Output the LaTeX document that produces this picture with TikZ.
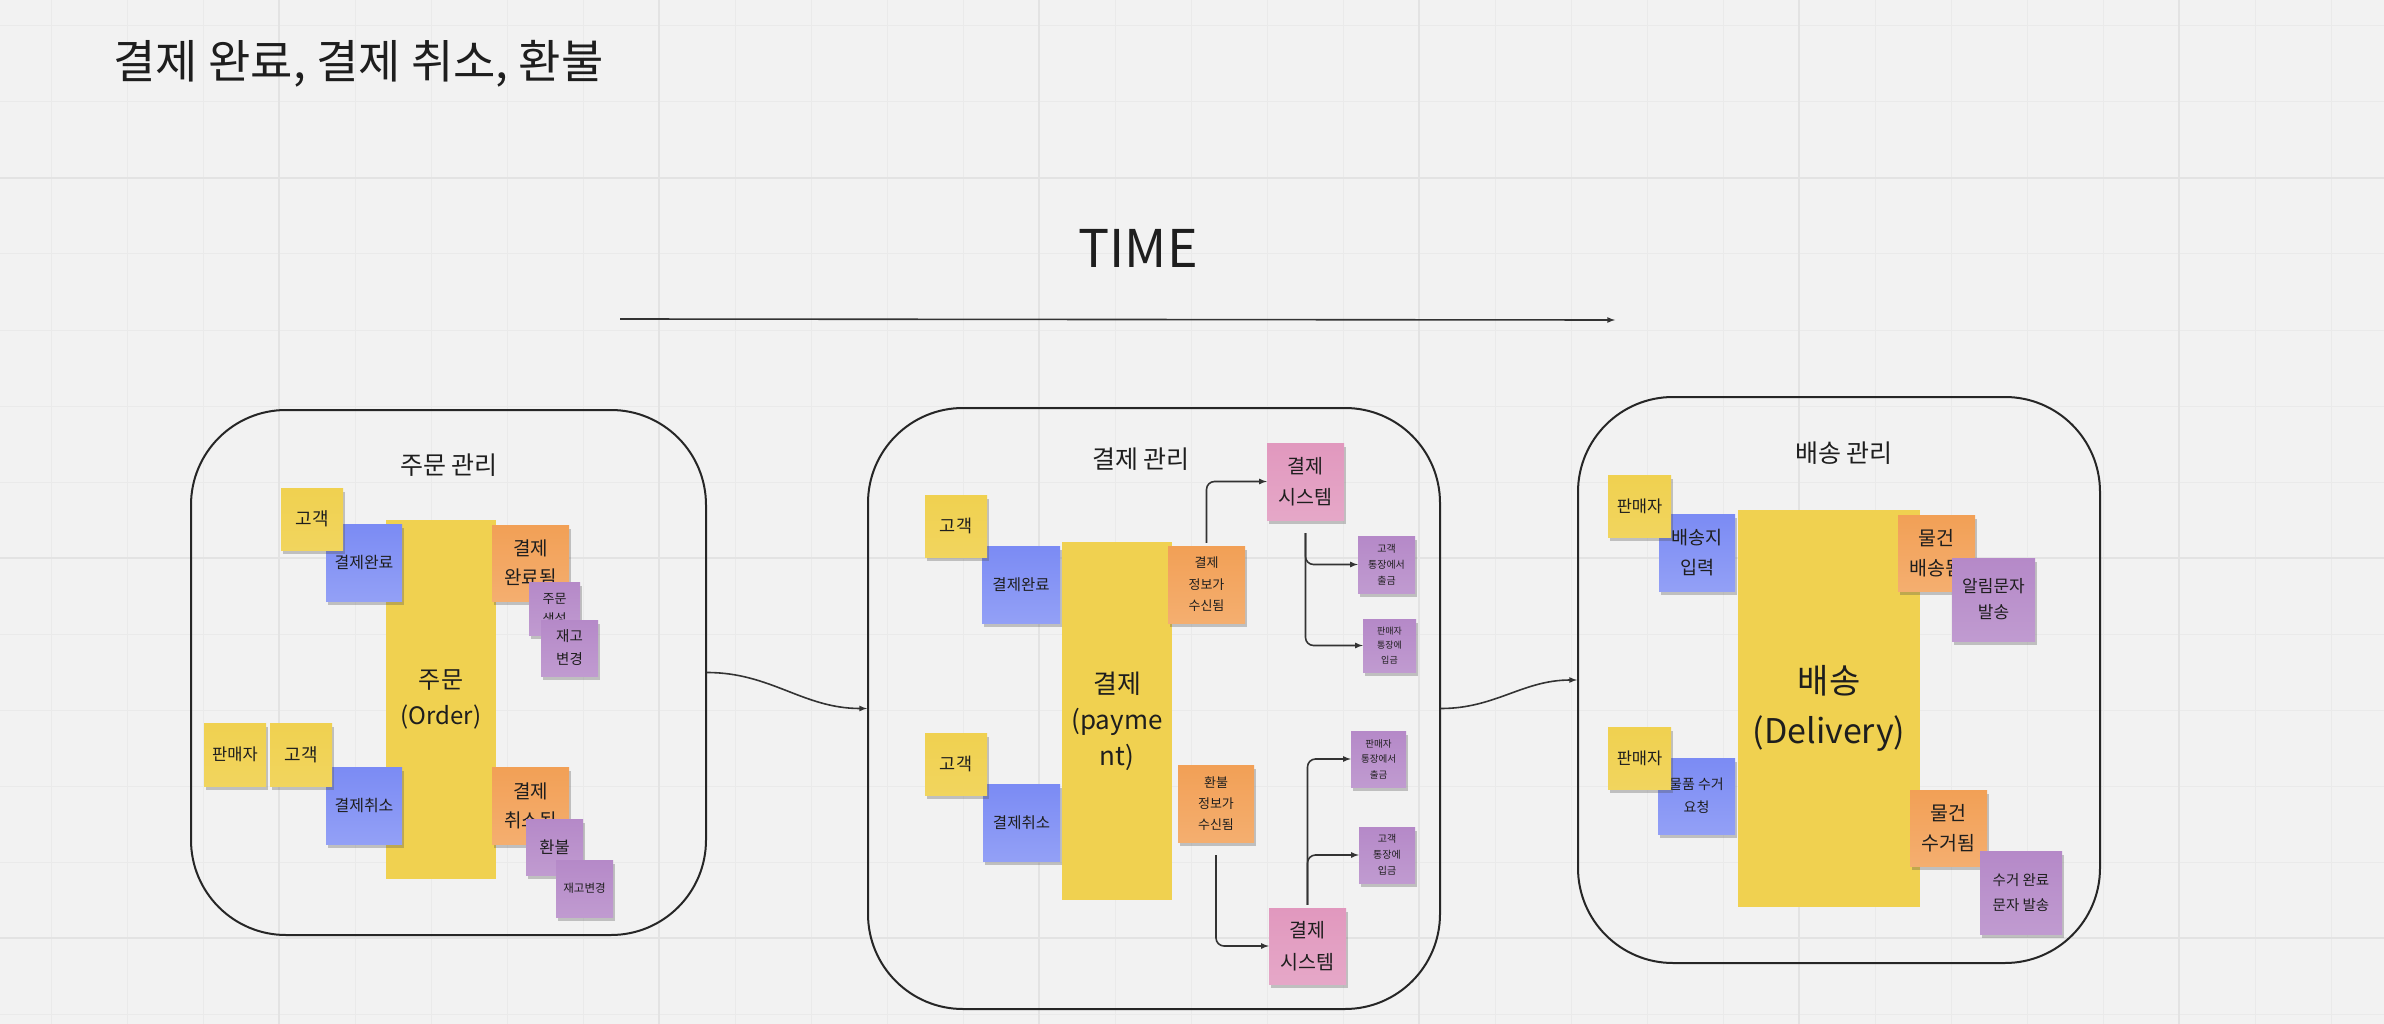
\documentclass[tikz,border=0pt]{standalone}
\usepackage{fontspec}
\setmainfont{Noto Sans CJK KR}
\usetikzlibrary{calc,positioning,shapes,shadows,arrows}
\definecolor{board}{HTML}{F2F2F2}
\definecolor{gridminor}{HTML}{EAEAEA}
\definecolor{gridmajor}{HTML}{E3E3E3}
\definecolor{ink}{HTML}{1E1E1E}
\definecolor{wire}{HTML}{333333}
\definecolor{stickyyellow}{HTML}{F0D150}
\definecolor{stickyblue}{HTML}{7B8BF4}
\definecolor{stickyorange}{HTML}{F2A056}
\definecolor{stickypurple}{HTML}{B589C8}
\definecolor{stickypink}{HTML}{E198BE}
\newcommand{\stickyfont}[2]{\fontsize{#1}{#2}\selectfont}
\tikzstyle{sticky}=[rectangle, inner sep=0pt, align=center, text=ink,
        drop shadow={shadow xshift=2pt, shadow yshift=-4pt, opacity=0.3, fill=black!70}]
\tikzstyle{actor}=[sticky, top color=stickyyellow, bottom color=stickyyellow!92!white,
        minimum width=62pt, minimum height=62pt]
\tikzstyle{command}=[sticky, top color=stickyblue, bottom color=stickyblue!82!white,
        minimum width=77pt, minimum height=77pt]
\tikzstyle{event}=[sticky, top color=stickyorange, bottom color=stickyorange!85!white,
        minimum width=77pt, minimum height=77pt]
\tikzstyle{policy}=[sticky, top color=stickypurple, bottom color=stickypurple!85!white,
        minimum width=57pt, minimum height=57pt]
\tikzstyle{external}=[sticky, top color=stickypink, bottom color=stickypink!85!white,
        minimum width=77pt, minimum height=77pt]
\tikzstyle{aggregate}=[rectangle, inner sep=0pt, align=center, text=ink, fill=stickyyellow]
\tikzstyle{context}=[rectangle, draw=black!85, line width=2pt, rounded corners=95pt]
\tikzstyle{flow}=[draw=wire, line width=1.6pt, -latex]
\pgfdeclarelayer{background}
\pgfsetlayers{background,main}

\begin{document}
\begin{tikzpicture}[x=1pt, y=-1pt, node distance=20pt]
    \useasboundingbox (0,0) rectangle (2384,1024);
    \begin{pgfonlayer}{background}
        \fill[board] (0,0) rectangle (2384,1024);
        \foreach \x in {51,127,...,2384} \draw[gridminor, line width=1pt] (\x,0) -- (\x,1024);
        \foreach \y in {26,102,...,1024} \draw[gridminor, line width=1pt] (0,\y) -- (2384,\y);
        \foreach \x in {279,659,...,2384} \draw[gridmajor, line width=2pt] (\x,0) -- (\x,1024);
        \foreach \y in {178,558,938} \draw[gridmajor, line width=2pt] (0,\y) -- (2384,\y);
    \end{pgfonlayer}

    \node (PageTitle) [anchor=west, text=ink, font=\stickyfont{46}{50}] at (110,64) {결제 완료, 결제 취소, 환불};

    \node (TimeLabel) [text=ink, font=\stickyfont{52}{56}] at (1138,248) {TIME};
    \coordinate (TimeStart) at (620,319);
    \coordinate (TimeEnd) at (1615,320);
    \draw[flow] (TimeStart) -- (TimeEnd);

    \node (OrderBox) [context, minimum width=515pt, minimum height=525pt] at (448.5,672.5) {};
    \node (PaymentBox) [context, minimum width=572pt, minimum height=601pt] at (1154,708.5) {};
    \node (DeliveryBox) [context, minimum width=522pt, minimum height=566pt] at (1839,680) {};

    \node (OrderTitle) [text=ink, font=\stickyfont{25}{30}] at (449,465) {주문 관리};
    \node (PaymentTitle) [text=ink, font=\stickyfont{25}{30}] at (1141,459) {결제 관리};
    \node (DeliveryTitle) [text=ink, font=\stickyfont{25}{30}] at (1844,453) {배송 관리};

    \node (Order) [aggregate, minimum width=110pt, minimum height=359pt, font=\stickyfont{24}{36}] at (441,699.5)
        {
            주문\\(Order)
        };

    \node (PayDone1) [command, minimum width=76pt, font=\stickyfont{16}{20}] at (364,562.5) {결제완료};
    \node (Customer1a) [actor, font=\stickyfont{18}{22}] at (312,519) {고객};

    \node (Cancel1) [command, minimum width=76pt, font=\stickyfont{16}{20}] at (364,805.5) {결제취소};
    \node (Seller1) [actor, minimum height=63pt, font=\stickyfont{16.5}{20}] at (235,754.5) {판매자};
    \node (Customer1b) [actor, minimum height=63pt, font=\stickyfont{18}{22}] at (301,754.5) {고객};

    \node (PaidEvent) [event, minimum height=76pt, font=\stickyfont{19}{29}] at (530.5,563)
        {
            결제\\완료됨
        };
    \node (OrderCreated) [policy, minimum width=51pt, minimum height=53pt, font=\stickyfont{13}{20}] at (554.5,608.5)
        {
            주문\\생성
        };
    \node (StockChange1) [policy, minimum height=56pt, font=\stickyfont{14.5}{23}] at (569.5,648)
        {
            재고\\변경
        };

    \node (CancelEvent) [event, font=\stickyfont{19}{29}] at (530.5,805.5)
        {
            결제\\취소됨
        };
    \node (Refund1) [policy, minimum height=56pt, font=\stickyfont{16.5}{20}] at (554.5,847) {환불};
    \node (StockChange2) [policy, font=\stickyfont{11.5}{14}] at (584.5,888.5) {재고변경};

    \node (Payment) [aggregate, minimum width=110pt, minimum height=358pt, font=\stickyfont{26}{36}] at (1117,721)
        {
            결제\\(payme\\nt)
        };

    \node (PayDone2) [command, minimum width=78pt, font=\stickyfont{15.5}{20}] at (1021,584.5) {결제완료};
    \node (Customer2a) [actor, font=\stickyfont{17.5}{22}] at (956,526) {고객};

    \node (Cancel2) [command, font=\stickyfont{15.5}{20}] at (1021.5,822.5) {결제취소};
    \node (Customer2b) [actor, font=\stickyfont{17.5}{22}] at (956,764) {고객};

    \node (PayInfo) [event, font=\stickyfont{13}{21.5}] at (1206.5,584.5)
        {
            결제\\정보가\\수신됨
        };
    \node (RefundInfo) [event, minimum width=76pt, font=\stickyfont{13}{21}] at (1216,803.5)
        {
            환불\\정보가\\수신됨
        };

    \node (PaySystem1) [external, font=\stickyfont{19.5}{31.5}] at (1305.5,481.5)
        {
            결제\\시스템
        };
    \node (PaySystem2) [external, minimum height=76pt, font=\stickyfont{19.5}{31.5}] at (1307.5,946)
        {
            결제\\시스템
        };

    \node (Withdraw1) [policy, font=\stickyfont{10}{16}] at (1386.5,564.5)
        {
            고객\\통장에서\\출금
        };
    \node (Deposit1) [policy, minimum width=53pt, minimum height=53pt, font=\stickyfont{9}{14.5}] at (1389.5,645.5)
        {
            판매자\\통장에\\입금
        };
    \node (Withdraw2) [policy, minimum width=55pt, minimum height=56pt, font=\stickyfont{9.5}{15.5}] at (1378.5,759)
        {
            판매자\\통장에서\\출금
        };
    \node (Deposit2) [policy, minimum width=56pt, minimum height=56pt, font=\stickyfont{10}{16}] at (1387,855)
        {
            고객\\통장에\\입금
        };

    \node (Delivery) [aggregate, minimum width=182pt, minimum height=397pt, font=\stickyfont{34}{50}] at (1829,708.5)
        {
            배송\\(Delivery)
        };

    \node (Address) [command, minimum width=76pt, font=\stickyfont{18.5}{30}] at (1697,552.5)
        {
            배송지\\입력
        };
    \node (Seller3a) [actor, minimum width=63pt, font=\stickyfont{16.5}{20}] at (1639.5,506) {판매자};

    \node (Pickup) [command, minimum height=76pt, font=\stickyfont{14}{23}] at (1696.5,796)
        {
            물품 수거\\요청
        };
    \node (Seller3b) [actor, minimum width=63pt, font=\stickyfont{16.5}{20}] at (1639.5,758) {판매자};

    \node (Shipped) [event, minimum height=76pt, font=\stickyfont{19.5}{30}] at (1936.5,553)
        {
            물건\\배송됨
        };
    \node (Notify) [policy, minimum width=83pt, minimum height=83pt, font=\stickyfont{17}{26}] at (1993.5,599.5)
        {
            알림문자\\발송
        };

    \node (Collected) [event, minimum height=76pt, font=\stickyfont{19.5}{30}] at (1948.5,828)
        {
            물건\\수거됨
        };
    \node (CollectNotify) [policy, minimum width=82pt, minimum height=83pt, font=\stickyfont{14.5}{25}] at (2021,892.5)
        {
            수거 완료\\문자 발송
        };

    \draw[flow] (OrderBox.east) to[out=0, in=180] (PaymentBox.west);
    \draw[flow] (PaymentBox.east) to[out=0, in=180] (DeliveryBox.west);

    \draw[flow, rounded corners=8pt, shorten <=3pt] (PayInfo.north) |- (PaySystem1.west);
    \draw[flow, rounded corners=8pt, shorten <=13pt] (PaySystem1.south) |- (Withdraw1.west);
    \draw[flow, rounded corners=8pt, shorten <=13pt] (PaySystem1.south) |- (Deposit1.west);
    \draw[flow, rounded corners=8pt, shorten <=13pt] (RefundInfo.south) |- (PaySystem2.west);
    \draw[flow, rounded corners=8pt, shorten <=3pt] (PaySystem2.north) |- (Withdraw2.west);
    \draw[flow, rounded corners=8pt, shorten <=3pt] (PaySystem2.north) |- (Deposit2.west);

\end{tikzpicture}
\end{document}
